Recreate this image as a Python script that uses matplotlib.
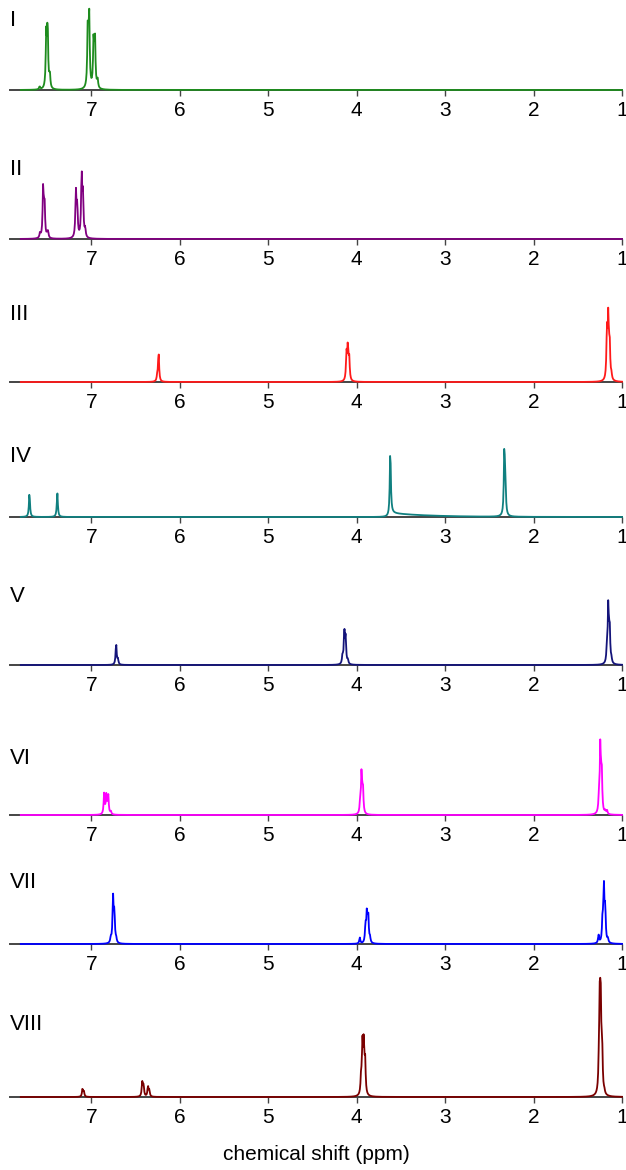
import numpy as np
import matplotlib.pyplot as plt

plt.rcParams['font.family'] = ['Liberation Sans', 'DejaVu Sans']

# panel labels and tick values
panel_labels = ['I', 'II', 'III', 'IV', 'V', 'VI', 'VII', 'VIII']
ppm_ticks = [7, 6, 5, 4, 3, 2, 1]

# resolved lines: shift (ppm) and line height (pixels)
shifts_I = [7.585, 7.51, 7.495, 7.47, 7.04, 7.025, 6.975, 6.96, 6.93]
heights_I = [3, 52, 63, 14, 63, 71, 46, 52, 9]

shifts_II = [7.58, 7.545, 7.53, 7.50, 7.49, 7.175, 7.16, 7.11, 7.095, 7.07]
heights_II = [5, 50, 35, 3, 6, 45, 30, 62, 40, 8]

shifts_III = [6.255, 6.24, 4.115, 4.10, 4.085, 1.17, 1.155, 1.14, 1.12]
heights_III = [5, 29, 26, 33, 22, 48, 60, 36, 5]

shifts_IV = [7.70, 7.385, 3.62, 2.33, 2.318]
heights_IV = [24, 24, 66, 68, 25]
tail_IV = [3.62, 4.0, 0.45]  # start ppm, height, decay (ppm) of the broad tail

shifts_V = [6.72, 6.70, 4.16, 4.14, 4.125, 4.10, 1.17, 1.155, 1.14, 1.12]
heights_V = [21, 5, 8, 32, 25, 4, 15, 57, 36, 4]

shifts_VI = [6.855, 6.83, 6.81, 6.78, 3.96, 3.945, 3.93, 1.26, 1.245, 1.23, 1.19, 1.17]
heights_VI = [21, 20, 20, 3, 12, 40, 26, 15, 67, 43, 3, 4]

shifts_VII = [6.78, 6.755, 6.74, 6.72, 3.965, 3.90, 3.885, 3.87, 3.85,
              1.265, 1.22, 1.205, 1.19, 1.16]
heights_VII = [5, 45, 29, 4, 6, 17, 28, 28, 5, 8, 22, 54, 32, 4]

shifts_VIII = [7.10, 7.085, 6.425, 6.41, 6.36, 6.345, 3.95, 3.935, 3.92, 3.905,
               1.26, 1.25, 1.24, 1.225, 1.20]
heights_VIII = [8, 5, 14, 11, 10, 6, 17, 48, 50, 33, 29, 88, 74, 44, 3]

colors = ['#1e8c1e', '#800080', '#ff1a1a', '#108080',
          '#14147a', '#ff00ff', '#0000ff', '#7a0000']

# baseline y (pixel from top) and label offsets above baseline
baselines = [90, 239, 382, 517, 665, 815, 944, 1097]
label_off = [70, 70, 67, 60, 69, 56, 62, 73]

shifts = [shifts_I, shifts_II, shifts_III, shifts_IV,
          shifts_V, shifts_VI, shifts_VII, shifts_VIII]
heights = [heights_I, heights_II, heights_III, heights_IV,
           heights_V, heights_VI, heights_VII, heights_VIII]

W, H = 626, 1170
fig = plt.figure(figsize=(W / 100, H / 100), dpi=100)

x = np.arange(1.0, 7.8, 0.006)
hw = 0.007

for i in range(8):
    y = np.zeros_like(x)
    for c, h in zip(shifts[i], heights[i]):
        y += h / (1 + ((x - c) / hw) ** 2)
    if i == 3:
        s, th, d = tail_IV
        y += np.where(x < s, th * np.exp(-(s - x) / d), 0)

    ax_h = 80
    ax = fig.add_axes([10 / W, (H - baselines[i]) / H, 612 / W, ax_h / H])
    ax.plot(x, y, color=colors[i], lw=1.3, clip_on=False, zorder=3)
    ax.set_xlim(7.92, 1.0)
    ax.set_ylim(0, ax_h)
    for side in ['top', 'left', 'right']:
        ax.spines[side].set_visible(False)
    ax.spines['bottom'].set_color('#444444')
    ax.spines['bottom'].set_linewidth(1.4)
    ax.set_yticks([])
    ax.set_xticks(ppm_ticks)
    ax.tick_params(axis='x', direction='out', length=4, width=1,
                   color='#444444', labelsize=15, pad=4)
    ax.patch.set_visible(False)
    ax.text(0.0, label_off[i], panel_labels[i], fontsize=16,
            va='center', ha='left', transform=ax.get_yaxis_transform())

fig.text(316 / W, 1 - 1155 / H, 'chemical shift (ppm)', fontsize=15,
         ha='center', va='center')

fig.savefig('out.png', dpi=100)
